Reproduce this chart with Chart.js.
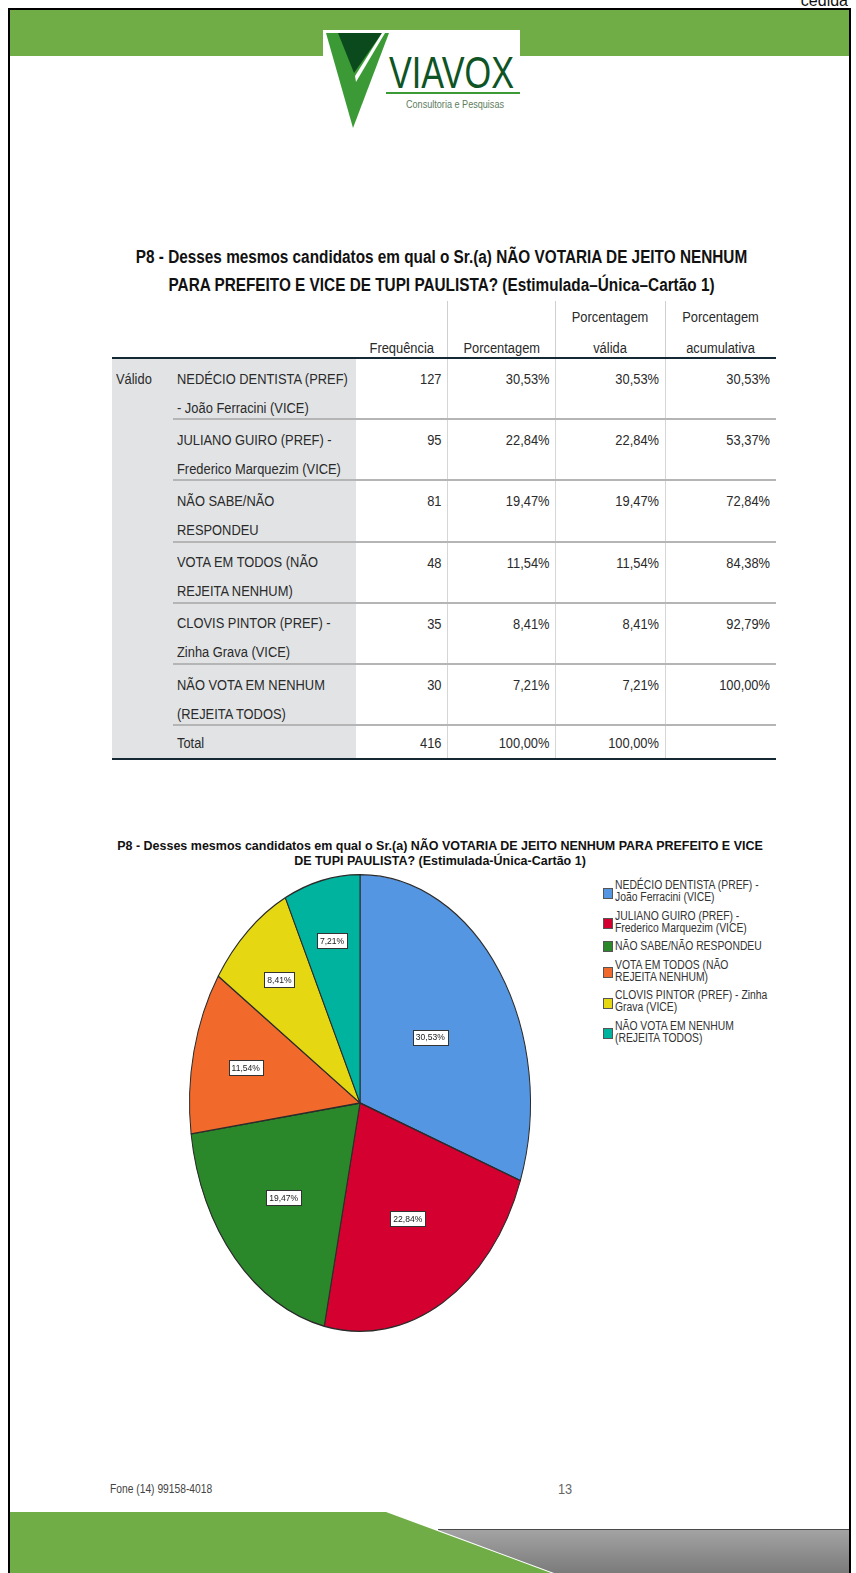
<!DOCTYPE html>
<html><head><meta charset="utf-8">
<script src="https://cdn.jsdelivr.net/npm/chart.js@4.4.1/dist/chart.umd.min.js"></script>
<style>
html,body{margin:0;padding:0;background:#fff;}
body{width:856px;height:1573px;position:relative;overflow:hidden;font-family:"Liberation Sans Narrow","Arial Narrow","Liberation Sans",Arial,sans-serif;color:#222;}
.a{position:absolute;white-space:nowrap;}
</style></head><body>
<svg class="a" style="left:0;top:0" width="856" height="1573">
  <defs>
    <linearGradient id="gg" x1="0" y1="0" x2="0" y2="1">
      <stop offset="0" stop-color="#a3a3a3"/><stop offset="1" stop-color="#7b7b7b"/>
    </linearGradient>
  </defs>
  <rect x="8" y="8" width="843" height="2" fill="#000"/>
  <rect x="8" y="8" width="2" height="1565" fill="#000"/>
  <rect x="849" y="8" width="2" height="1565" fill="#000"/>
  <rect x="10" y="10" width="839" height="46" fill="#70AD47"/>
  <rect x="323" y="30" width="197" height="28" fill="#fff"/>
  <polygon points="326,33 389,33 353,128" fill="#3B9A35"/>
  <polygon points="338,33 382,33 354,73" fill="#0B4A1D"/>
  <polygon points="382,33 385,33 356,82 355,76" fill="#fff"/>
  <rect x="386" y="92" width="134" height="2" fill="#3B9A35"/>
  <text x="389" y="88" font-family="Liberation Sans Narrow, Arial Narrow, sans-serif" font-size="45" fill="#0E5424" textLength="125" lengthAdjust="spacingAndGlyphs">VIAVOX</text>
  <text x="406" y="108" font-family="Liberation Sans Narrow, Arial Narrow, sans-serif" font-size="10" fill="#5d7d5d" textLength="98" lengthAdjust="spacingAndGlyphs">Consultoria e Pesquisas</text>
  <polygon points="10,1512 386,1512 551,1573 10,1573" fill="#70AD47"/>
  <polygon points="438,1530 849,1530 849,1573 554,1573" fill="url(#gg)"/>
  <rect x="438" y="1529" width="411" height="1" fill="#4a4a4a"/>
</svg>
<div class="a" style="right:8px;top:-8px;font-family:'Liberation Sans',Arial,sans-serif;font-size:16px;color:#111;">cedida</div>

<div class="a" style="left:0;width:883px;text-align:center;top:243px;font-weight:bold;font-size:17.5px;line-height:28px;color:#111;transform:scaleX(0.876);transform-origin:441.5px 0;">P8 - Desses mesmos candidatos em qual o Sr.(a) NÃO VOTARIA DE JEITO NENHUM<br>PARA PREFEITO E VICE DE TUPI PAULISTA? (Estimulada–Única–Cartão 1)</div>

<div id="table"></div>

<div class="a" style="left:0;width:880px;text-align:center;top:838px;font-weight:bold;font-size:13.5px;line-height:15px;color:#111;transform:scaleX(0.925);transform-origin:440px 0;">P8 - Desses mesmos candidatos em qual o Sr.(a) NÃO VOTARIA DE JEITO NENHUM PARA PREFEITO E VICE<br>DE TUPI PAULISTA? (Estimulada-Única-Cartão 1)</div>

<canvas id="pie" width="360" height="480" style="position:absolute;left:180px;top:863px;"></canvas>
<div id="legend" class="a" style="left:603px;top:879px;"></div>

<div class="a" style="left:110px;top:1480px;font-size:13px;line-height:17px;color:#444;transform:scaleX(0.79);transform-origin:0 0;">Fone (14) 99158-4018</div>
<div class="a" style="left:558px;top:1479px;font-size:15px;line-height:19px;color:#666;transform:scaleX(0.85);transform-origin:0 0;">13</div>

<script>
// ---- data ----
const categories = [
  ["NEDÉCIO DENTISTA (PREF)", "- João Ferracini (VICE)"],
  ["JULIANO GUIRO (PREF) -", "Frederico Marquezim (VICE)"],
  ["NÃO SABE/NÃO", "RESPONDEU"],
  ["VOTA EM TODOS (NÃO", "REJEITA NENHUM)"],
  ["CLOVIS PINTOR (PREF) -", "Zinha Grava (VICE)"],
  ["NÃO VOTA EM NENHUM", "(REJEITA TODOS)"]
];
const legendLabels = [
  ["NEDÉCIO DENTISTA (PREF) -", "João Ferracini (VICE)"],
  ["JULIANO GUIRO (PREF) -", "Frederico Marquezim (VICE)"],
  ["NÃO SABE/NÃO RESPONDEU"],
  ["VOTA EM TODOS (NÃO", "REJEITA NENHUM)"],
  ["CLOVIS PINTOR (PREF) - Zinha", "Grava (VICE)"],
  ["NÃO VOTA EM NENHUM", "(REJEITA TODOS)"]
];
const frequencies = [127, 95, 81, 48, 35, 30];
const percentages = ["30,53%", "22,84%", "19,47%", "11,54%", "8,41%", "7,21%"];
const validPercentages = ["30,53%", "22,84%", "19,47%", "11,54%", "8,41%", "7,21%"];
const cumulativePercentages = ["30,53%", "53,37%", "72,84%", "84,38%", "92,79%", "100,00%"];
const totalLabel = "Total";
const totalFrequency = 416;
const totalPercentage = "100,00%";
const totalValid = "100,00%";
const groupLabel = "Válido";
const headerTop = ["", "", "Porcentagem", "Porcentagem"];
const headerBottom = ["Frequência", "Porcentagem", "válida", "acumulativa"];
const sliceColors = ["#5596E2", "#D40030", "#2A882B", "#F26A2B", "#E5D813", "#00B39E"];

// ---- table ----
const T = document.getElementById('table');
function el(style, html){ const d=document.createElement('div'); d.className='a'; d.style.cssText=style; if(html!==undefined) d.innerHTML=html; T.appendChild(d); return d; }
const SX = 0.92;
const nL = `transform:scaleX(${SX});transform-origin:0 0;`;
const nR = `transform:scaleX(${SX});transform-origin:100% 0;`;
const nC = `transform:scaleX(${SX});transform-origin:50% 0;`;
const colL = [356, 447.5, 555, 665], colR = [447.5, 555, 665, 776];
const rowTop0 = 358, rowH = 61.2, nRows = categories.length;
const totalTop = rowTop0 + nRows*rowH, bottomY = totalTop + 33;
el(`left:112px;top:${rowTop0+1}px;width:244px;height:${bottomY-rowTop0-1}px;background:#E1E3E5;`);
[447,555,665].forEach(x=>el(`left:${x}px;top:301px;width:1px;height:57px;background:#cfcfcf;`));
[447,555,665].forEach(x=>el(`left:${x}px;top:${rowTop0+1}px;width:1px;height:${bottomY-rowTop0-1}px;background:#d6d6d6;`));
const fs = 'font-size:14px;color:#2a2a2a;';
for(let c=0;c<4;c++){
  const w = colR[c]-colL[c];
  if(headerTop[c]) el(`left:${colL[c]}px;width:${w}px;text-align:center;top:308px;line-height:18px;${fs}${nC}`, headerTop[c]);
  el(`left:${colL[c]}px;width:${w}px;text-align:center;top:339px;line-height:18px;${fs}${nC}`, headerBottom[c]);
}
el(`left:112px;top:357px;width:664px;height:2px;background:#152935;`);
el(`left:116px;top:${rowTop0+12}px;line-height:18px;${fs}${nL}`, groupLabel);
for(let r=0;r<nRows;r++){
  const top = rowTop0 + r*rowH;
  el(`left:177px;top:${top+6.5}px;line-height:29px;${fs}${nL}`, categories[r].join('<br>'));
  const vals = [frequencies[r], percentages[r], validPercentages[r], cumulativePercentages[r]];
  vals.forEach((v,c)=>el(`left:${colL[c]}px;width:${colR[c]-colL[c]-6}px;text-align:right;top:${top+12}px;line-height:18px;${fs}${nR}`, v));
  el(`left:173px;top:${top+rowH-1}px;width:603px;height:2px;background:#b5b5b5;`);
}
el(`left:177px;top:${totalTop+9}px;line-height:18px;${fs}${nL}`, totalLabel);
[totalFrequency,totalPercentage,totalValid].forEach((v,c)=>el(`left:${colL[c]}px;width:${colR[c]-colL[c]-6}px;text-align:right;top:${totalTop+9}px;line-height:18px;${fs}${nR}`, v));
el(`left:112px;top:${bottomY}px;width:664px;height:2px;background:#152935;`);

// ---- legend ----
const L = document.getElementById('legend');
legendLabels.forEach((lines,i)=>{
  const e = document.createElement('div');
  e.style.cssText = `position:relative;display:flex;align-items:center;margin-bottom:6.5px;`;
  e.innerHTML = `<div style="flex:none;width:8px;height:9px;border:1px solid #555;background:${sliceColors[i]};margin-right:2px;margin-top:${lines.length>1?4:0}px;"></div>` +
    `<div style="font-size:12px;line-height:12px;color:#333;transform:scaleX(0.863);transform-origin:0 0;">${lines.join('<br>')}</div>`;
  L.appendChild(e);
});

// ---- pie ----
const STRETCH = 229/171;
const ellipse = {
  id:'ellipse',
  beforeDatasetsDraw(chart){
    const a = chart.getDatasetMeta(0).data[0]; const ctx = chart.ctx;
    ctx.save(); ctx.translate(a.x,a.y); ctx.scale(1,STRETCH); ctx.translate(-a.x,-a.y);
  },
  afterDatasetsDraw(chart){ chart.ctx.restore(); }
};
const sliceLabels = {
  id:'sliceLabels',
  afterDraw(chart){
    const ctx = chart.ctx;
    ctx.save();
    ctx.font = '9.5px "Liberation Sans Narrow","Arial Narrow","Liberation Sans",sans-serif';
    ctx.textAlign='center'; ctx.textBaseline='middle';
    chart.getDatasetMeta(0).data.forEach((arc,i)=>{
      const p = arc.getProps(['x','y','startAngle','endAngle','outerRadius'], true);
      const mid = (p.startAngle+p.endAngle)/2;
      const span = (p.endAngle-p.startAngle)*180/Math.PI;
      const f = 0.8 - 0.0027*span;
      const lx = p.x + Math.cos(mid)*p.outerRadius*f;
      const ly = p.y + Math.sin(mid)*p.outerRadius*f*STRETCH;
      const txt = percentages[i];
      const tw = ctx.measureText(txt).width*0.9;
      const w = Math.round(tw) + 6, h = 15;
      const bx = Math.round(lx - w/2)+0.5, by = Math.round(ly - h/2)+0.5;
      ctx.fillStyle='#fff'; ctx.fillRect(bx,by,w,h);
      ctx.strokeStyle='#333'; ctx.lineWidth=1; ctx.strokeRect(bx,by,w,h);
      ctx.save(); ctx.translate(lx, ly+0.5); ctx.scale(0.9,1);
      ctx.fillStyle='#222'; ctx.fillText(txt, 0, 0);
      ctx.restore();
    });
    ctx.restore();
  }
};
new Chart(document.getElementById('pie'), {
  type:'pie',
  data:{ labels: legendLabels.map(l=>l.join(' ')), datasets:[{ data: frequencies, backgroundColor: sliceColors, borderColor:'#2b2b2b', borderWidth:1, clip:false }] },
  options:{
    responsive:false, animation:false, events:[],
    layout:{ padding:{ left:9, right:9, top:0, bottom:0 } },
    plugins:{ legend:{display:false}, tooltip:{enabled:false}, title:{display:false} }
  },
  plugins:[ellipse, sliceLabels]
});
</script>
</body></html>
